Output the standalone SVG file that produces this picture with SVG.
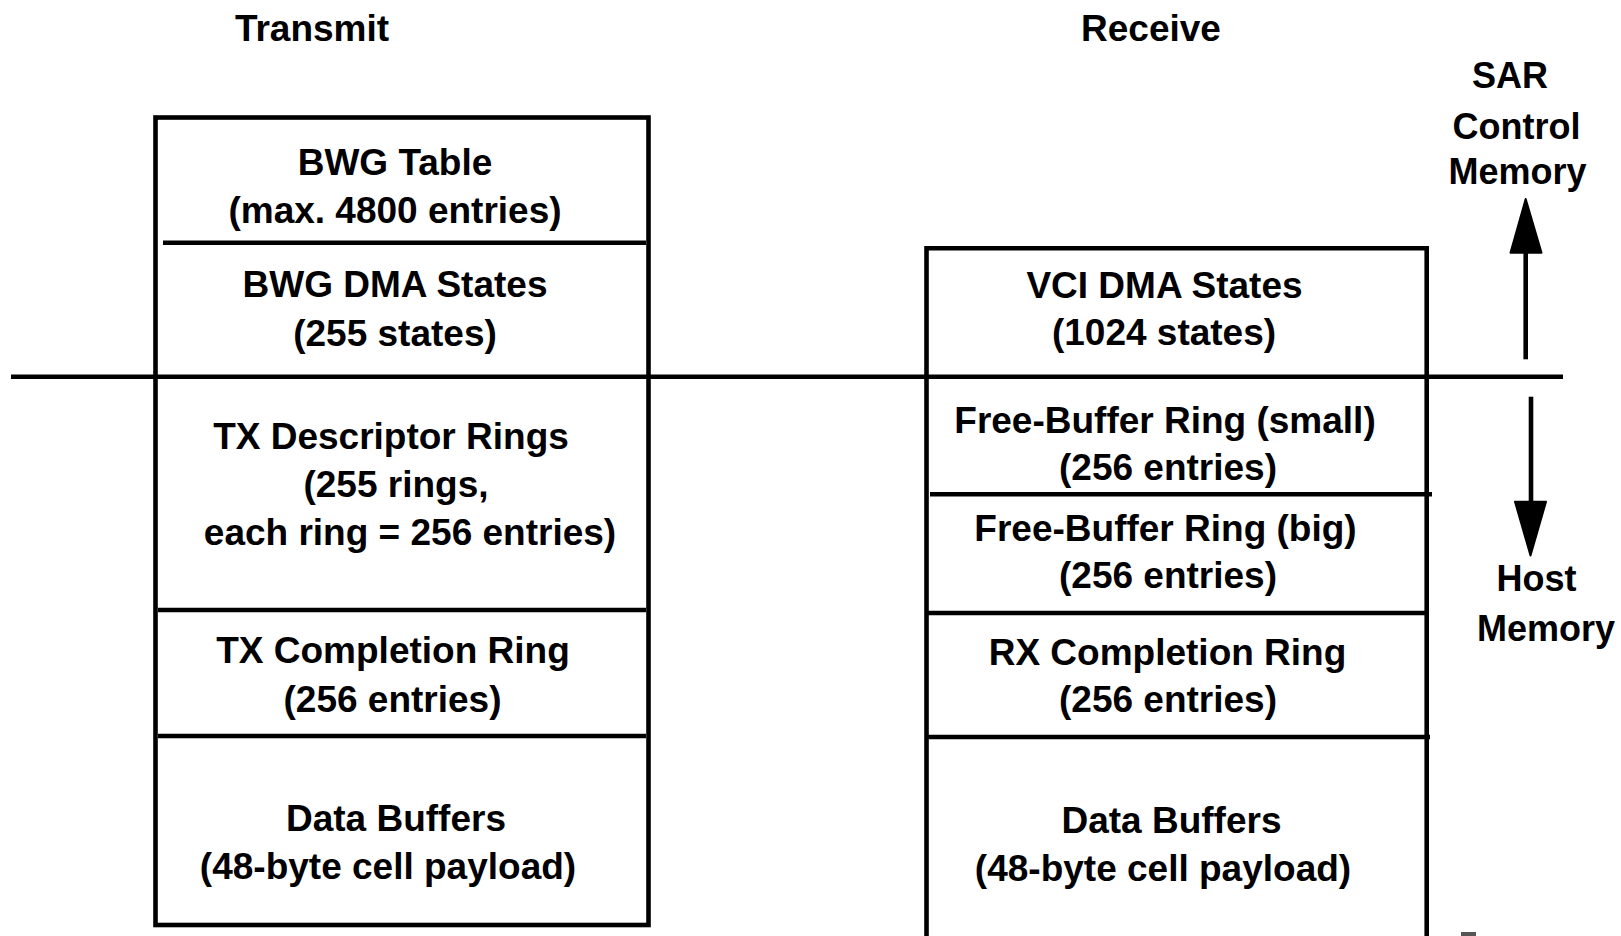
<svg xmlns="http://www.w3.org/2000/svg" width="1621" height="936" viewBox="0 0 1621 936">
  <style>
    .t { font-family: "Liberation Sans", Arial, Helvetica, sans-serif; font-weight: bold; font-size: 37px; fill: #000; text-anchor: middle; }
    .s { font-size: 36px; }
    .ln { stroke: #000; stroke-width: 4.6; fill: none; }
    .ah { fill: #000; stroke: #000; stroke-width: 2; stroke-linejoin: round; }
  </style>
  <rect x="0" y="0" width="1621" height="936" fill="#fff"/>

  <!-- column headings -->
  <g id="headings">
    <text class="t" x="312" y="41">Transmit</text>
    <text class="t" x="1151" y="41">Receive</text>
  </g>

  <!-- boundary between SAR control memory and host memory -->
  <g id="connectors">
    <line class="ln" x1="11" y1="376.7" x2="1563" y2="376.7"/>
    <!-- up arrow: SAR control memory -->
    <line class="ln" x1="1525.7" y1="359.3" x2="1525.7" y2="250"/>
    <polygon class="ah" points="1525.7,199 1510.5,252.7 1541.5,252.7"/>
    <!-- down arrow: host memory -->
    <line class="ln" x1="1531" y1="396.7" x2="1531" y2="505"/>
    <polygon class="ah" points="1515,501.7 1546,501.7 1530.5,555.5"/>
  </g>

  <!-- side labels -->
  <g id="label-sar">
    <text class="t s" x="1510" y="88">SAR</text>
    <text class="t s" x="1516.5" y="139">Control</text>
    <text class="t s" x="1517.5" y="184">Memory</text>
  </g>
  <g id="label-host">
    <text class="t s" x="1536.5" y="591">Host</text>
    <text class="t s" x="1546" y="641">Memory</text>
  </g>

  <!-- transmit memory stack -->
  <g id="tx-stack">
    <rect class="ln" x="155.5" y="117.5" width="493" height="807.5"/>
  </g>
  <g id="tx-bwg-table">
    <text class="t" x="395" y="175">BWG Table</text>
    <text class="t" x="395" y="222.5">(max. 4800 entries)</text>
    <line class="ln" x1="163" y1="242.7" x2="646" y2="242.7"/>
  </g>
  <g id="tx-bwg-dma">
    <text class="t" x="395" y="297">BWG DMA States</text>
    <text class="t" x="395" y="345.5">(255 states)</text>
  </g>
  <g id="tx-desc-rings">
    <text class="t" x="391" y="449">TX Descriptor Rings</text>
    <text class="t" x="396" y="496.5">(255 rings,</text>
    <text class="t" x="410" y="545">each ring = 256 entries)</text>
    <line class="ln" x1="158" y1="610" x2="646" y2="610"/>
  </g>
  <g id="tx-completion">
    <text class="t" x="393" y="663">TX Completion Ring</text>
    <text class="t" x="392.5" y="711.5">(256 entries)</text>
    <line class="ln" x1="158" y1="736" x2="646" y2="736"/>
  </g>
  <g id="tx-data-buffers">
    <text class="t" x="396" y="831">Data Buffers</text>
    <text class="t" x="388" y="878.5">(48-byte cell payload)</text>
  </g>

  <!-- receive memory stack (continues below the page edge) -->
  <g id="rx-stack">
    <path class="ln" d="M926.5,945 V248.3 H1426.7 V945"/>
  </g>
  <g id="rx-vci-dma">
    <text class="t" x="1164.5" y="297.5">VCI DMA States</text>
    <text class="t" x="1164" y="344.5">(1024 states)</text>
  </g>
  <g id="rx-free-small">
    <text class="t" x="1165" y="432.5">Free-Buffer Ring (small)</text>
    <text class="t" x="1168" y="480">(256 entries)</text>
    <line class="ln" x1="930" y1="494.3" x2="1432" y2="494.3"/>
  </g>
  <g id="rx-free-big">
    <text class="t" x="1165.5" y="540.5">Free-Buffer Ring (big)</text>
    <text class="t" x="1168" y="588">(256 entries)</text>
    <line class="ln" x1="928" y1="613" x2="1426" y2="613"/>
  </g>
  <g id="rx-completion">
    <text class="t" x="1167.5" y="665">RX Completion Ring</text>
    <text class="t" x="1168" y="711.5">(256 entries)</text>
    <line class="ln" x1="928" y1="737" x2="1430" y2="737"/>
  </g>
  <g id="rx-data-buffers">
    <text class="t" x="1171.5" y="832.5">Data Buffers</text>
    <text class="t" x="1163" y="881">(48-byte cell payload)</text>
  </g>

  <!-- small mark at the lower edge -->
  <rect x="1461" y="932" width="15" height="4" fill="#555"/>
</svg>
